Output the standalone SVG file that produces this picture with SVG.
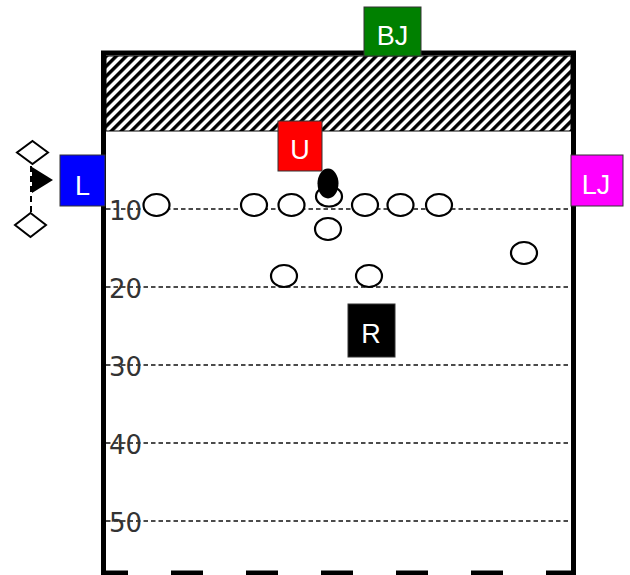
<svg xmlns="http://www.w3.org/2000/svg" width="630" height="575" viewBox="0 0 630 575">
<style>
.player{fill:#fff;stroke:#000;stroke-width:2.2}
.yard{stroke:#111;stroke-width:1.5;stroke-dasharray:4.5 3;fill:none}
.num{font-family:"DejaVu Sans",sans-serif;font-size:26px;fill:#333}
.box{stroke:#333;stroke-width:1}
.lbl{font-family:"Liberation Sans",Arial,sans-serif;font-size:27px;fill:#fff;text-anchor:middle}
.border{stroke:#000;stroke-width:5;fill:none}
.diamond{fill:#fff;stroke:#000;stroke-width:2}
</style>
<defs>
<pattern id="hatch" patternUnits="userSpaceOnUse" width="7.07" height="7.07" patternTransform="rotate(45)">
<rect width="7.07" height="7.07" fill="#fff"/>
<rect x="0" y="0" width="3.4" height="7.07" fill="#000"/>
</pattern>
</defs>
<rect width="630" height="575" fill="#fff"/>
<g id="field">
<rect x="106" y="56" width="465" height="75" fill="url(#hatch)" stroke="#000" stroke-width="1"/>
<line class="border" x1="103.5" y1="53" x2="103.5" y2="575"/>
<line class="border" x1="101" y1="53" x2="576" y2="53"/>
<line class="border" x1="573.5" y1="53" x2="573.5" y2="575"/>
<line class="border" x1="101" y1="573" x2="576" y2="573" stroke-dasharray="32 43" stroke-dashoffset="5"/>
</g>
<g id="yardlines">
<line class="yard" x1="106" y1="209" x2="571" y2="209"/>
<line class="yard" x1="106" y1="287" x2="571" y2="287"/>
<line class="yard" x1="106" y1="365" x2="571" y2="365"/>
<line class="yard" x1="106" y1="443" x2="571" y2="443"/>
<line class="yard" x1="106" y1="521" x2="571" y2="521"/>
<text class="num" x="109" y="220">10</text>
<text class="num" x="109" y="298">20</text>
<text class="num" x="109" y="376">30</text>
<text class="num" x="109" y="454">40</text>
<text class="num" x="109" y="532">50</text>
</g>
<g id="connectors">
<line x1="31" y1="166" x2="31" y2="212" stroke="#000" stroke-width="2" stroke-dasharray="6 4"/>
<polygon points="32,167 53,180 32,193" fill="#000"/>
</g>
<g id="marker-top"><polygon class="diamond" points="32.5,141 48,152.5 32.5,164 17,152.5"/></g>
<g id="marker-bottom"><polygon class="diamond" points="30.5,213 46,225 30.5,237 15,225"/></g>
<g id="players">
<ellipse id="p1" class="player" cx="156.5" cy="205" rx="13" ry="11"/>
<ellipse id="p2" class="player" cx="254" cy="205" rx="13" ry="11"/>
<ellipse id="p3" class="player" cx="291.5" cy="205" rx="13" ry="11"/>
<ellipse id="p4" class="player" cx="329" cy="196.5" rx="13" ry="10"/>
<ellipse id="p5" class="player" cx="365" cy="205" rx="13" ry="11"/>
<ellipse id="p6" class="player" cx="400.5" cy="205" rx="13" ry="11"/>
<ellipse id="p7" class="player" cx="439" cy="205" rx="13" ry="11"/>
<ellipse id="p8" class="player" cx="328" cy="229" rx="13" ry="11"/>
<ellipse id="p9" class="player" cx="284" cy="276" rx="13" ry="11"/>
<ellipse id="p10" class="player" cx="369" cy="276" rx="13" ry="11"/>
<ellipse id="p11" class="player" cx="524" cy="253" rx="13" ry="11"/>
</g>
<g id="ball"><ellipse cx="328" cy="183.5" rx="10.5" ry="15" fill="#000"/></g>
<g id="BJ"><rect class="box" x="364" y="7" width="57" height="49" fill="#008000"/><text class="lbl" x="392.5" y="45">BJ</text></g>
<g id="U"><rect class="box" x="278" y="121" width="44" height="50" fill="#ff0000"/><text class="lbl" x="300" y="159">U</text></g>
<g id="L"><rect class="box" x="60" y="155" width="45" height="51" fill="#0000ff"/><text class="lbl" x="82.5" y="195">L</text></g>
<g id="LJ"><rect class="box" x="571" y="155" width="52" height="51" fill="#ff00ff"/><text class="lbl" x="596" y="194">LJ</text></g>
<g id="R"><rect class="box" x="348" y="304" width="47" height="53" fill="#000"/><text class="lbl" x="371" y="343">R</text></g>
</svg>
